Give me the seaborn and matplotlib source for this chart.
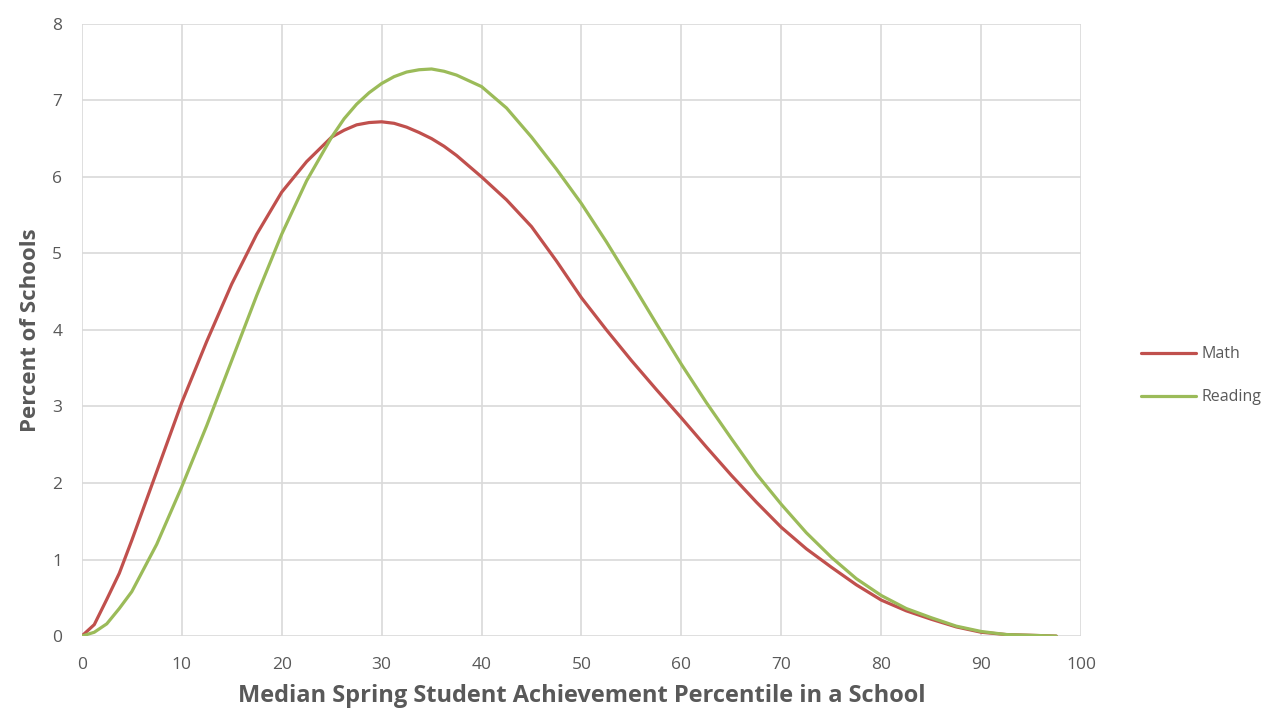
import pandas as pd
import matplotlib.pyplot as plt
import seaborn as sns

# percentile points along the x axis
percentile = [0, 1.25, 2.5, 3.75, 5, 7.5, 10, 12.5, 15, 17.5, 20, 22.5, 25, 26.25, 27.5, 28.75,
              30, 31.25, 32.5, 33.75, 35, 36.25, 37.5, 40, 42.5, 45, 47.5, 50, 52.5, 55, 57.5,
              60, 62.5, 65, 67.5, 70, 72.5, 75, 77.5, 80, 82.5, 85, 87.5, 90, 92.5, 95, 97.5]

# percent of schools
math = [0, 0.15, 0.48, 0.82, 1.25, 2.15, 3.05, 3.85, 4.6, 5.25, 5.8, 6.2, 6.52, 6.61, 6.68, 6.71,
        6.72, 6.7, 6.65, 6.58, 6.5, 6.4, 6.28, 6.0, 5.7, 5.35, 4.9, 4.42, 4.0, 3.6, 3.22,
        2.85, 2.47, 2.1, 1.75, 1.42, 1.14, 0.9, 0.67, 0.47, 0.33, 0.22, 0.12, 0.05, 0.02, 0.01, 0]
reading = [0, 0.05, 0.16, 0.36, 0.58, 1.2, 1.95, 2.75, 3.6, 4.45, 5.25, 5.95, 6.52, 6.76, 6.95, 7.1,
           7.22, 7.31, 7.37, 7.4, 7.41, 7.38, 7.33, 7.18, 6.9, 6.52, 6.1, 5.65, 5.15, 4.62, 4.08,
           3.55, 3.05, 2.58, 2.12, 1.72, 1.35, 1.03, 0.75, 0.53, 0.36, 0.24, 0.13, 0.06, 0.02, 0.01, 0]

df = pd.DataFrame({'Percentile': percentile * 2,
                   'Percent': math + reading,
                   'Subject': ['Math'] * len(math) + ['Reading'] * len(reading)})

sns.set_style('white')
plt.rcParams['font.family'] = ['Open Sans', 'DejaVu Sans']

fig = plt.figure(figsize=(12.78, 7.22), dpi=100)
ax = fig.add_axes([0.064, 0.119, 0.782, 0.848])

sns.lineplot(data=df, x='Percentile', y='Percent', hue='Subject',
             palette={'Math': '#C0504D', 'Reading': '#9BBB59'},
             linewidth=2.3, ax=ax)

ax.set_xlim(0, 100)
ax.set_ylim(0, 8)
ax.set_xticks(range(0, 101, 10))
ax.set_yticks(range(0, 9))
ax.grid(True, color='#D9D9D9', linewidth=1.2)
ax.set_axisbelow(True)
for s in ax.spines.values():
    s.set_visible(False)
ax.tick_params(axis='both', length=0, labelsize=12.5, colors='#595959')
ax.tick_params(axis='x', pad=15)
ax.tick_params(axis='y', pad=14)

ax.set_xlabel('Median Spring Student Achievement Percentile in a School',
              fontsize=17, fontweight='bold', color='#595959', labelpad=8)
ax.set_ylabel('Percent of Schools', fontsize=16, fontweight='bold', color='#595959', labelpad=8)

leg = ax.legend(loc='center left', bbox_to_anchor=(1.045, 0.425), frameon=False,
                fontsize=11.5, handlelength=3.5, handletextpad=0.3, labelspacing=1.7)
for t in leg.get_texts():
    t.set_color('#595959')

plt.savefig('out.png', dpi=100)
